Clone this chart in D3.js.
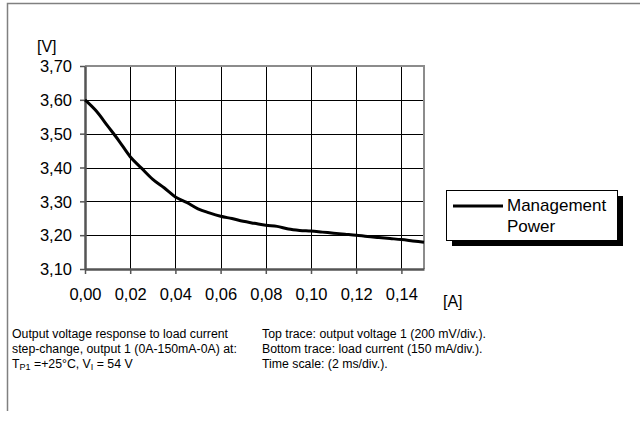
<!DOCTYPE html>
<html><head><meta charset="utf-8">
<script src="https://cdn.jsdelivr.net/npm/d3@7"></script>
<style>body{margin:0;background:#fff}svg{display:block}text{font-family:"Liberation Sans",Arial,sans-serif}</style>
</head><body>
<svg id="c" width="640" height="421"></svg>
<script>
const current = [0,0.005,0.01,0.015,0.02,0.025,0.03,0.035,0.04,0.045,0.05,0.055,0.06,0.065,0.07,0.075,0.08,0.085,0.09,0.095,0.10,0.105,0.11,0.115,0.12,0.125,0.13,0.135,0.14,0.145,0.15];
const voltage = [3.600,3.567,3.523,3.479,3.432,3.398,3.365,3.340,3.313,3.297,3.278,3.266,3.256,3.249,3.241,3.235,3.229,3.226,3.218,3.214,3.212,3.209,3.206,3.203,3.200,3.196,3.193,3.190,3.187,3.183,3.179];
const xTicks = [0,0.02,0.04,0.06,0.08,0.10,0.12,0.14];
const yTicks = [3.10,3.20,3.30,3.40,3.50,3.60,3.70];
const seriesName = ["Management","Power"];
const notesLeft = ["Output voltage response to load current","step-change, output 1 (0A-150mA-0A) at:"];
const notesRight = ["Top trace: output voltage 1 (200 mV/div.).","Bottom trace: load current (150 mA/div.).","Time scale: (2 ms/div.)."];

const svg = d3.select("#c");
const L=85,R=424,T=66,B=269;
const x = d3.scaleLinear().domain([0,0.15]).range([L,R]);
const y = d3.scaleLinear().domain([3.10,3.70]).range([B,T]);
const fmt = d => d.toFixed(2).replace(".",",");

// outer frame
svg.append("path").attr("d","M7.5,411V3.5H640").attr("fill","none").attr("stroke","#808080").attr("stroke-width",1.5);

// grid
const g = svg.append("g");
g.selectAll(".vg").data(xTicks.slice(1)).join("line")
 .attr("x1",d=>Math.round(x(d))+0.5).attr("x2",d=>Math.round(x(d))+0.5).attr("y1",T).attr("y2",B).attr("stroke","#000").attr("stroke-width",1);
g.selectAll(".hg").data(yTicks.slice(1,-1)).join("line")
 .attr("y1",d=>Math.round(y(d))+0.5).attr("y2",d=>Math.round(y(d))+0.5).attr("x1",L).attr("x2",R).attr("stroke","#000").attr("stroke-width",1);
// top & right border gray
svg.append("path").attr("d",`M${L},${T}H${R}V${B}`).attr("fill","none").attr("stroke","#8c8c8c").attr("stroke-width",2);

// axes
const ya = d3.axisLeft(y).tickValues(yTicks).tickFormat(fmt).tickSize(5).tickSizeOuter(0);
const xa = d3.axisBottom(x).tickValues(xTicks).tickFormat(fmt).tickSize(5).tickSizeOuter(0);
const yg = svg.append("g").attr("transform",`translate(${L},0)`).call(ya);
const xg = svg.append("g").attr("transform",`translate(0,${B})`).call(xa);
[yg,xg].forEach(a=>{a.select(".domain").attr("stroke","#555").attr("stroke-width",2.5);
 a.selectAll(".tick line").attr("stroke","#555").attr("stroke-width",1.5);
 a.selectAll("text").attr("font-size",16.5).attr("fill","#000").attr("font-family","Liberation Sans, Arial, sans-serif");});
yg.selectAll("text").attr("x",-13).attr("dy","0.35em");
xg.selectAll("text").attr("y",19).attr("dy","0.71em");

// line
svg.append("path").datum(current.map((c,i)=>[c,voltage[i]]))
 .attr("d",d3.line().x(d=>x(d[0])).y(d=>y(d[1])).curve(d3.curveMonotoneX))
 .attr("fill","none").attr("stroke","#000").attr("stroke-width",3);

// axis unit labels
svg.append("text").attr("x",37).attr("y",52).attr("font-size",16).text("[V]");
svg.append("text").attr("x",443).attr("y",307).attr("font-size",16).text("[A]");

// legend
svg.append("rect").attr("x",452).attr("y",196).attr("width",171).attr("height",50).attr("fill","#000");
svg.append("rect").attr("x",446.5).attr("y",190.5).attr("width",171).attr("height",50).attr("fill","#fff").attr("stroke","#000").attr("stroke-width",1);
svg.append("line").attr("x1",453).attr("x2",503).attr("y1",206).attr("y2",206).attr("stroke","#000").attr("stroke-width",3);
svg.append("text").attr("x",507).attr("y",211).attr("font-size",17).text(seriesName[0]);
svg.append("text").attr("x",507).attr("y",232).attr("font-size",17).text(seriesName[1]);

// notes
const nl = svg.append("g").attr("font-size",12.3);
notesLeft.forEach((t,i)=>nl.append("text").attr("x",12).attr("y",338+i*15).text(t));
const t3 = nl.append("text").attr("x",12).attr("y",368);
t3.append("tspan").text("T");
t3.append("tspan").attr("font-size",9).attr("dy",2).text("P1");
t3.append("tspan").attr("dy",-2).text(" =+25°C, V");
t3.append("tspan").attr("font-size",9).attr("dy",2).text("I");
t3.append("tspan").attr("dy",-2).text(" = 54 V");
notesRight.forEach((t,i)=>nl.append("text").attr("x",262).attr("y",338+i*15).text(t));
</script>
</body></html>
